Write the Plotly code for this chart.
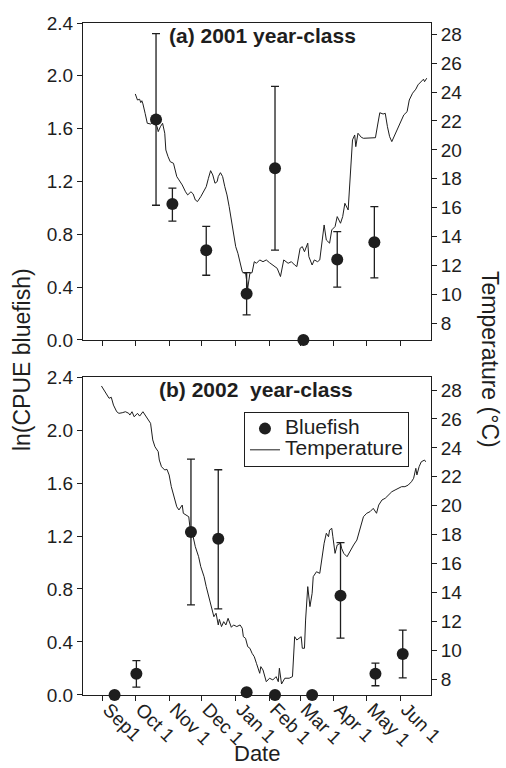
import pandas as pd
import plotly.graph_objects as go

# ---- data (x values are days after 1 September of the year-class) ----
# (a) 2001 year-class
a_fish_days = [49, 64, 95, 132, 158, 184, 215, 249]
a_fish_ln = [1.67, 1.03, 0.68, 0.35, 1.30, 0.0, 0.61, 0.74]
a_fish_hi = [2.32, 1.15, 0.86, 0.51, 1.92, 0.0, 0.82, 1.01]
a_fish_lo = [1.02, 0.90, 0.49, 0.19, 0.68, 0.0, 0.40, 0.47]

a_temp_days = [30, 32, 34, 35, 36, 37, 39, 41, 44, 47, 50, 51, 53, 55, 57, 58, 60, 62,
               65, 66, 68, 70, 73, 76, 78, 81, 83, 85, 87, 90, 92, 95, 97, 99, 101,
               103, 105, 106, 108, 110, 112, 114, 116, 118, 120, 122, 124, 126, 128,
               130, 131, 133, 135, 137, 139, 141, 144, 147, 150, 153, 156, 160, 163,
               166, 170, 173, 176, 178, 181, 183, 185, 188, 189, 192, 194, 197, 199,
               201, 203, 205, 208, 210, 213, 215, 218, 220, 222, 225, 226, 227, 229,
               231, 232, 234, 237, 239, 242, 245, 250, 252, 254, 257, 259, 261, 263,
               265, 267, 270, 273, 276, 279, 281, 284, 287, 289, 291, 292, 294, 295, 297]
a_temp_c = [23.87, 23.45, 23.5, 23.27, 23.4, 23.18, 22.53, 21.84, 21.79, 21.95, 21.6,
            21.26, 21.6, 21.84, 21.15, 19.99, 19.53, 19.18, 19.07, 18.73, 18.15, 17.92,
            17.57, 17.1, 16.88, 17.1, 16.95, 16.53, 16.42, 16.76, 17.0, 17.45, 18.03,
            18.56, 18.26, 17.69, 17.8, 18.15, 18.42, 18.15, 17.45, 16.88, 16.07, 15.15,
            13.99, 13.3, 12.84, 12.15, 11.57, 11.46, 11.5, 10.42, 11.46, 11.5, 12.26,
            12.15, 12.38, 12.26, 12.38, 12.19, 12.03, 11.8, 11.23, 12.38, 12.15, 12.26,
            12.03, 11.92, 13.19, 13.3, 12.95, 13.54, 12.61, 12.03, 12.38, 12.26, 12.38,
            13.54, 14.8, 13.76, 13.54, 14.46, 14.69, 15.38, 14.92, 15.38, 16.3, 15.84,
            16.99, 18.84, 20.69, 21.03, 20.22, 21.15, 20.87, 20.8, 20.8, 20.8, 20.84,
            21.72, 22.57, 22.48, 22.53, 21.6, 20.91, 20.57, 20.91, 21.38, 21.95, 22.42,
            22.64, 23.45, 23.92, 24.2, 24.5, 24.65, 24.79, 24.89, 24.72, 24.96]

# (b) 2002 year-class
b_fish_days = [11, 31, 81, 106, 132, 158, 192, 218, 250, 275]
b_fish_ln = [0.0, 0.16, 1.23, 1.18, 0.02, 0.0, 0.0, 0.75, 0.16, 0.31]
b_fish_hi = [0.0, 0.26, 1.78, 1.70, 0.02, 0.0, 0.0, 1.15, 0.24, 0.49]
b_fish_lo = [0.0, 0.06, 0.68, 0.65, 0.02, 0.0, 0.0, 0.43, 0.07, 0.13]

b_temp_days = [-1, 2, 4, 6, 8, 10, 13, 15, 18, 21, 24, 25, 27, 29, 32, 34, 37, 40, 42,
               44, 46, 48, 51, 52, 54, 57, 59, 61, 63, 65, 66, 68, 70, 73, 74, 76, 79,
               80, 83, 85, 88, 90, 93, 95, 98, 100, 102, 104, 106, 107, 109, 111, 113,
               115, 118, 120, 123, 126, 128, 129, 131, 133, 135, 137, 139, 141, 143,
               144, 145, 147, 150, 153, 156, 159, 161, 162, 164, 167, 171, 174, 176,
               178, 180, 182, 183, 185, 186, 188, 190, 192, 193, 196, 199, 200, 202,
               203, 205, 207, 208, 210, 211, 213, 215, 218, 219, 221, 224, 227, 230,
               233, 236, 239, 242, 245, 248, 251, 253, 256, 259, 262, 265, 268, 271,
               274, 277, 280, 283, 285, 287, 288, 290, 292, 295, 296]
b_temp_c = [28.28, 27.88, 27.65, 27.43, 27.5, 26.96, 26.5, 26.39, 26.43, 26.5, 26.39,
            26.27, 26.5, 26.15, 26.39, 26.2, 26.5, 26.15, 25.93, 25.7, 24.55, 24.08,
            23.74, 23.16, 22.7, 22.47, 22.52, 22.13, 21.32, 20.74, 20.4, 19.93, 19.71,
            20.05, 19.48, 19.36, 19.24, 18.55, 17.86, 17.17, 16.48, 15.79, 15.1, 14.41,
            13.49, 12.8, 12.33, 12.57, 11.76, 12.15, 11.65, 11.99, 11.76, 12.22, 11.6,
            11.76, 11.65, 11.76, 11.53, 10.95, 10.84, 10.26, 10.15, 9.8, 9.57, 9.11,
            8.65, 8.42, 8.88, 8.65, 7.84, 8.08, 7.96, 8.19, 7.84, 8.77, 7.68, 8.08,
            8.08, 8.19, 10.95, 10.72, 10.84, 10.95, 10.15, 10.15, 12.1, 14.41, 13.03,
            13.95, 15.1, 15.44, 15.33, 15.91, 16.94, 17.41, 18.1, 17.86, 18.32, 18.44,
            17.86, 16.71, 17.29, 17.41, 17.06, 16.71, 16.48, 16.94, 17.29, 17.63, 18.44,
            19.24, 19.48, 19.59, 19.82, 19.48, 20.05, 20.4, 20.52, 20.74, 20.97, 21.09,
            21.2, 21.32, 21.32, 21.43, 21.66, 21.9, 22.59, 22.13, 22.7, 23.04, 23.16,
            23.04]

month_days = [0, 30, 61, 91, 122, 153, 181, 212, 242, 273]
month_labels = ["Sep1", "Oct 1", "Nov 1", "Dec 1", "Jan 1", "Feb 1",
                "Mar 1", "Apr 1", "May 1", "Jun 1"]

INK = "#1e1e1e"
FONT = "Liberation Sans, Arial, sans-serif"


def to_dates(start, days):
    return list(pd.Timestamp(start) + pd.to_timedelta(days, unit="D"))


def diffs(vals, hi, lo):
    plus = [h - v for v, h in zip(vals, hi)]
    minus = [v - l for v, l in zip(vals, lo)]
    return plus, minus


def legend_name(text):
    # large legend text on compact legend rows
    return '<span style="font-size:21px">%s</span>' % text


fig = go.Figure()

panels = [
    ("2001-09-01", a_fish_days, a_fish_ln, a_fish_hi, a_fish_lo, a_temp_days, a_temp_c,
     "x", "y", "y2", False, [6.84, 28.78]),
    ("2002-09-01", b_fish_days, b_fish_ln, b_fish_hi, b_fish_lo, b_temp_days, b_temp_c,
     "x2", "y3", "y4", True, [6.92, 28.9]),
]

for (start, fd, fv, fh, fl, td, tc, xa, ya_t, ya_f, show, trange) in panels:
    plus, minus = diffs(fv, fh, fl)
    fig.add_trace(go.Scatter(
        x=to_dates(start, td), y=tc, xaxis=xa, yaxis=ya_t, mode="lines",
        line=dict(color=INK, width=1), name=legend_name("Temperature"),
        showlegend=show, legendrank=2))
    fig.add_trace(go.Scatter(
        x=to_dates(start, fd), y=fv, xaxis=xa, yaxis=ya_f, mode="markers",
        marker=dict(color=INK, size=12), cliponaxis=False,
        error_y=dict(type="data", symmetric=False, array=plus, arrayminus=minus,
                     color=INK, thickness=1.3, width=4),
        name=legend_name("Bluefish"), showlegend=show, legendrank=1))

tick_font = dict(family=FONT, size=19, color=INK)
axis_common = dict(showline=True, linecolor=INK, linewidth=1, ticks="outside",
                   ticklen=5, tickcolor=INK, tickwidth=1, showgrid=False,
                   zeroline=False, tickfont=tick_font, automargin=False)

top_dom = [0.5283, 1.0]
bot_dom = [0.0, 0.4732]

x_ranges = []
for start in ("2001-09-01", "2002-09-01"):
    s = pd.Timestamp(start)
    x_ranges.append([s + pd.Timedelta(days=-17.9), s + pd.Timedelta(days=300.9)])

fig.update_layout(
    width=506, height=768,
    margin=dict(l=83, r=75, t=23, b=73),
    paper_bgcolor="white", plot_bgcolor="white",
    font=dict(family=FONT, color=INK),
    showlegend=True,
    legend=dict(x=0.4626, y=0.4211, xanchor="left", yanchor="top",
                bordercolor=INK, borderwidth=1, bgcolor="white",
                font=dict(family=FONT, size=14, color=INK),
                tracegroupgap=0, itemwidth=30),
    xaxis=dict(axis_common, domain=[0, 1], anchor="y", range=x_ranges[0],
               tickvals=to_dates("2001-09-01", month_days), showticklabels=False,
               mirror=True),
    xaxis2=dict(axis_common, domain=[0, 1], anchor="y3", range=x_ranges[1],
                tickvals=to_dates("2002-09-01", month_days), ticktext=month_labels,
                tickangle=45, mirror=True, ticklabelstandoff=-10,
                ticklabelshift=6),
    yaxis=dict(axis_common, domain=top_dom, anchor="x", side="right",
               range=panels[0][11], tickvals=list(range(8, 29, 2))),
    yaxis2=dict(axis_common, domain=top_dom, anchor="x", side="left",
                overlaying="y", range=[0, 2.4], dtick=0.4, tick0=0,
                tickformat=".1f"),
    yaxis3=dict(axis_common, domain=bot_dom, anchor="x2", side="right",
                range=panels[1][11], tickvals=list(range(8, 29, 2))),
    yaxis4=dict(axis_common, domain=bot_dom, anchor="x2", side="left",
                overlaying="y3", range=[0, 2.4], dtick=0.4, tick0=0,
                tickformat=".1f"),
)

ann_font = dict(family=FONT, size=23, color=INK)
fig.add_annotation(text="ln(CPUE bluefish)", xref="paper", yref="paper",
                   x=-0.175, y=0.4985, textangle=-90, showarrow=False,
                   xanchor="center", yanchor="middle", font=ann_font)
fig.add_annotation(text="Temperature (°C)", xref="paper", yref="paper",
                   x=1.1695, y=0.4985, textangle=90, showarrow=False,
                   xanchor="center", yanchor="middle", font=ann_font)
fig.add_annotation(text="Date", xref="paper", yref="paper",
                   x=0.5, y=-0.1071, showarrow=False, borderpad=0,
                   xanchor="center", yanchor="bottom",
                   font=dict(family=FONT, size=22, color=INK))
fig.add_annotation(text="<b>(a) 2001 year-class</b>", xref="paper", yref="paper",
                   x=0.517, y=0.982, showarrow=False, xanchor="center",
                   yanchor="middle", font=dict(family=FONT, size=21, color=INK))
fig.add_annotation(text="<b>(b) 2002\u00a0 year-class</b>", xref="paper", yref="paper",
                   x=0.497, y=0.454, showarrow=False, xanchor="center",
                   yanchor="middle", font=dict(family=FONT, size=21, color=INK))

fig.write_html("out.html")
